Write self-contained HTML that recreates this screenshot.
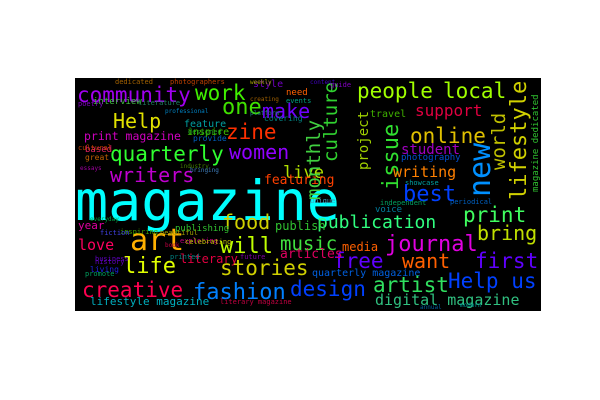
<!DOCTYPE html>
<html><head><meta charset="utf-8"><style>
html,body{margin:0;padding:0;background:#fff;width:600px;height:400px;overflow:hidden}
svg{display:block}
text{font-family:"DejaVu Sans Mono","Liberation Mono",monospace}
</style></head><body>
<svg id="wc" width="600" height="400">
<defs><clipPath id="cl"><rect x="75" y="78" width="466" height="233"/></clipPath></defs>
<rect x="75" y="78" width="466" height="233" fill="#000"/>
<g id="words" clip-path="url(#cl)"></g>
</svg>
<script>
const words = ["magazine","community","work","one","make","Help","zine","print magazine","quarterly","women","writers","live","featuring","interview","literature","feature","inspire","covering","style","need","events","dedicated","designed","provide","based","great","people","local","lifestyle","world","new","magazine dedicated","culture","monthly","project","issue","support","online","travel","student","photography","writing","showcase","best","publication","print","bring","music","media","journal","free","want","first","quarterly magazine","Help us","artist","design","digital magazine","food","publish","year","art","will","publishing","love","articles","literary","life","stories","living","creative","fashion","lifestyle magazine","literary magazine","poetry","professional","platform","creating","cultural","essays","industry","bringing","inspiring","beautiful","exploring","celebrating","printed","history","business","fiction","book","future","promote","voice","independent","unique","periodical","annual","photographers","weekly","content","guide","modern","everyday"];
const wx = [75,77,195,222,262,113,226,84,110,229,110,283,264,93,138,184,187,264,253,286,286,115,188,193,85,85,357,443,526,505,490,538,337,320,368,398,415,410,370,401,401,393,405,403,317,463,477,280,342,385,333,402,475,312,448,373,290,375,222,275,78,130,220,175,78,280,180,123,220,90,82,193,90,220,78,165,250,250,78,80,180,190,120,160,180,185,170,95,95,100,165,240,85,375,380,310,450,420,170,250,310,330,460,90];
const wy = [220,102,100,114,118,128,139,140,161,159,182,178,184,104,105,127,135,121,87,95,103,84,134,141,152,160,98,98,200,170,197,192,162,200,170,190,116,143,117,154,160,177,185,201,228,222,240,250,251,251,268,268,268,276,288,292,296,305,229,230,229,250,253,231,250,258,263,273,275,272,297,299,305,304,106,113,115,101,150,170,168,172,234,235,243,244,259,264,261,235,247,259,276,212,205,203,204,309,84,84,84,87,307,221];
const ws = [55,21,21,22,20,20,21,11.5,21,20,20,17,13,9,7,10,10,8,10,9,7,7,7,8,9,8,21,21,22,19,30,9,19,19,14,22,16,21,10,14,9,15,7,22,18,21,20,19,12,22,21,20,21,10,21,21,21,15,20,12,11,30,22,9,15,13,12,22,21,8,21,22,11,7,7,6,6,6,7,6,6,6,7,7,7,7,7,7,7,7,6,7,7,9,7,7,7,6,7,6,6,7,6,6];
const wc = ["#00ffff","#a000f0","#40f000","#40e000","#7000ff","#e0e000","#ff3000","#d000c0","#30ff30","#9000ff","#c000d0","#b0e000","#ff4000","#40c040","#208060","#00a0a0","#40c000","#008080","#7000c0","#ff6000","#00a080","#a06000","#20a020","#0060c0","#e02060","#c06000","#a0ff00","#a0ff00","#d0d000","#c0c000","#0090ff","#30c030","#30d030","#40d040","#a0d000","#30e030","#e00040","#e0c000","#40b000","#a000c0","#0050d0","#ff8000","#00a0a0","#0040ff","#30ff80","#40ff60","#c0e000","#40e040","#ff6000","#e000e0","#6000ff","#ff6000","#6000ff","#0060e0","#0040ff","#30e060","#0040ff","#30c080","#d0d000","#30c030","#e000a0","#ffb000","#c0ff00","#30c030","#ff0060","#e00060","#e00040","#e0ff00","#d0d000","#2020e0","#ff0050","#0080ff","#00b0c0","#c00040","#8000c0","#0080c0","#208080","#a06000","#c04000","#a000a0","#408000","#4080c0","#40a000","#a0a000","#c00080","#c0c000","#008080","#6000c0","#6000c0","#4040e0","#c00040","#8000a0","#00a060","#0080a0","#00a060","#40a0c0","#0060c0","#0060a0","#c04000","#a0a000","#4000c0","#8000c0","#00a0a0","#00a040"];
const wr = [0,0,0,0,0,0,0,0,0,0,0,0,0,0,0,0,0,0,0,0,0,0,0,0,0,0,0,0,1,1,1,1,1,1,1,1,0,0,0,0,0,0,0,0,0,0,0,0,0,0,0,0,0,0,0,0,0,0,0,0,0,0,0,0,0,0,0,0,0,0,0,0,0,0,0,0,0,0,0,0,0,0,0,0,0,0,0,0,0,0,0,0,0,0,0,0,0,0,0,0,0,0,0,0];
const g = document.getElementById('words');
const NS = "http://www.w3.org/2000/svg";
for (let i = 0; i < words.length; i++) {
  const t = document.createElementNS(NS, 'text');
  t.setAttribute('x', wx[i]);
  t.setAttribute('y', wy[i]);
  t.setAttribute('font-size', ws[i]);
  t.setAttribute('fill', wc[i]);
  if (wr[i]) t.setAttribute('transform', 'rotate(-90 ' + wx[i] + ' ' + wy[i] + ')');
  t.textContent = words[i];
  
  
  g.appendChild(t);
}
</script>
</body></html>
